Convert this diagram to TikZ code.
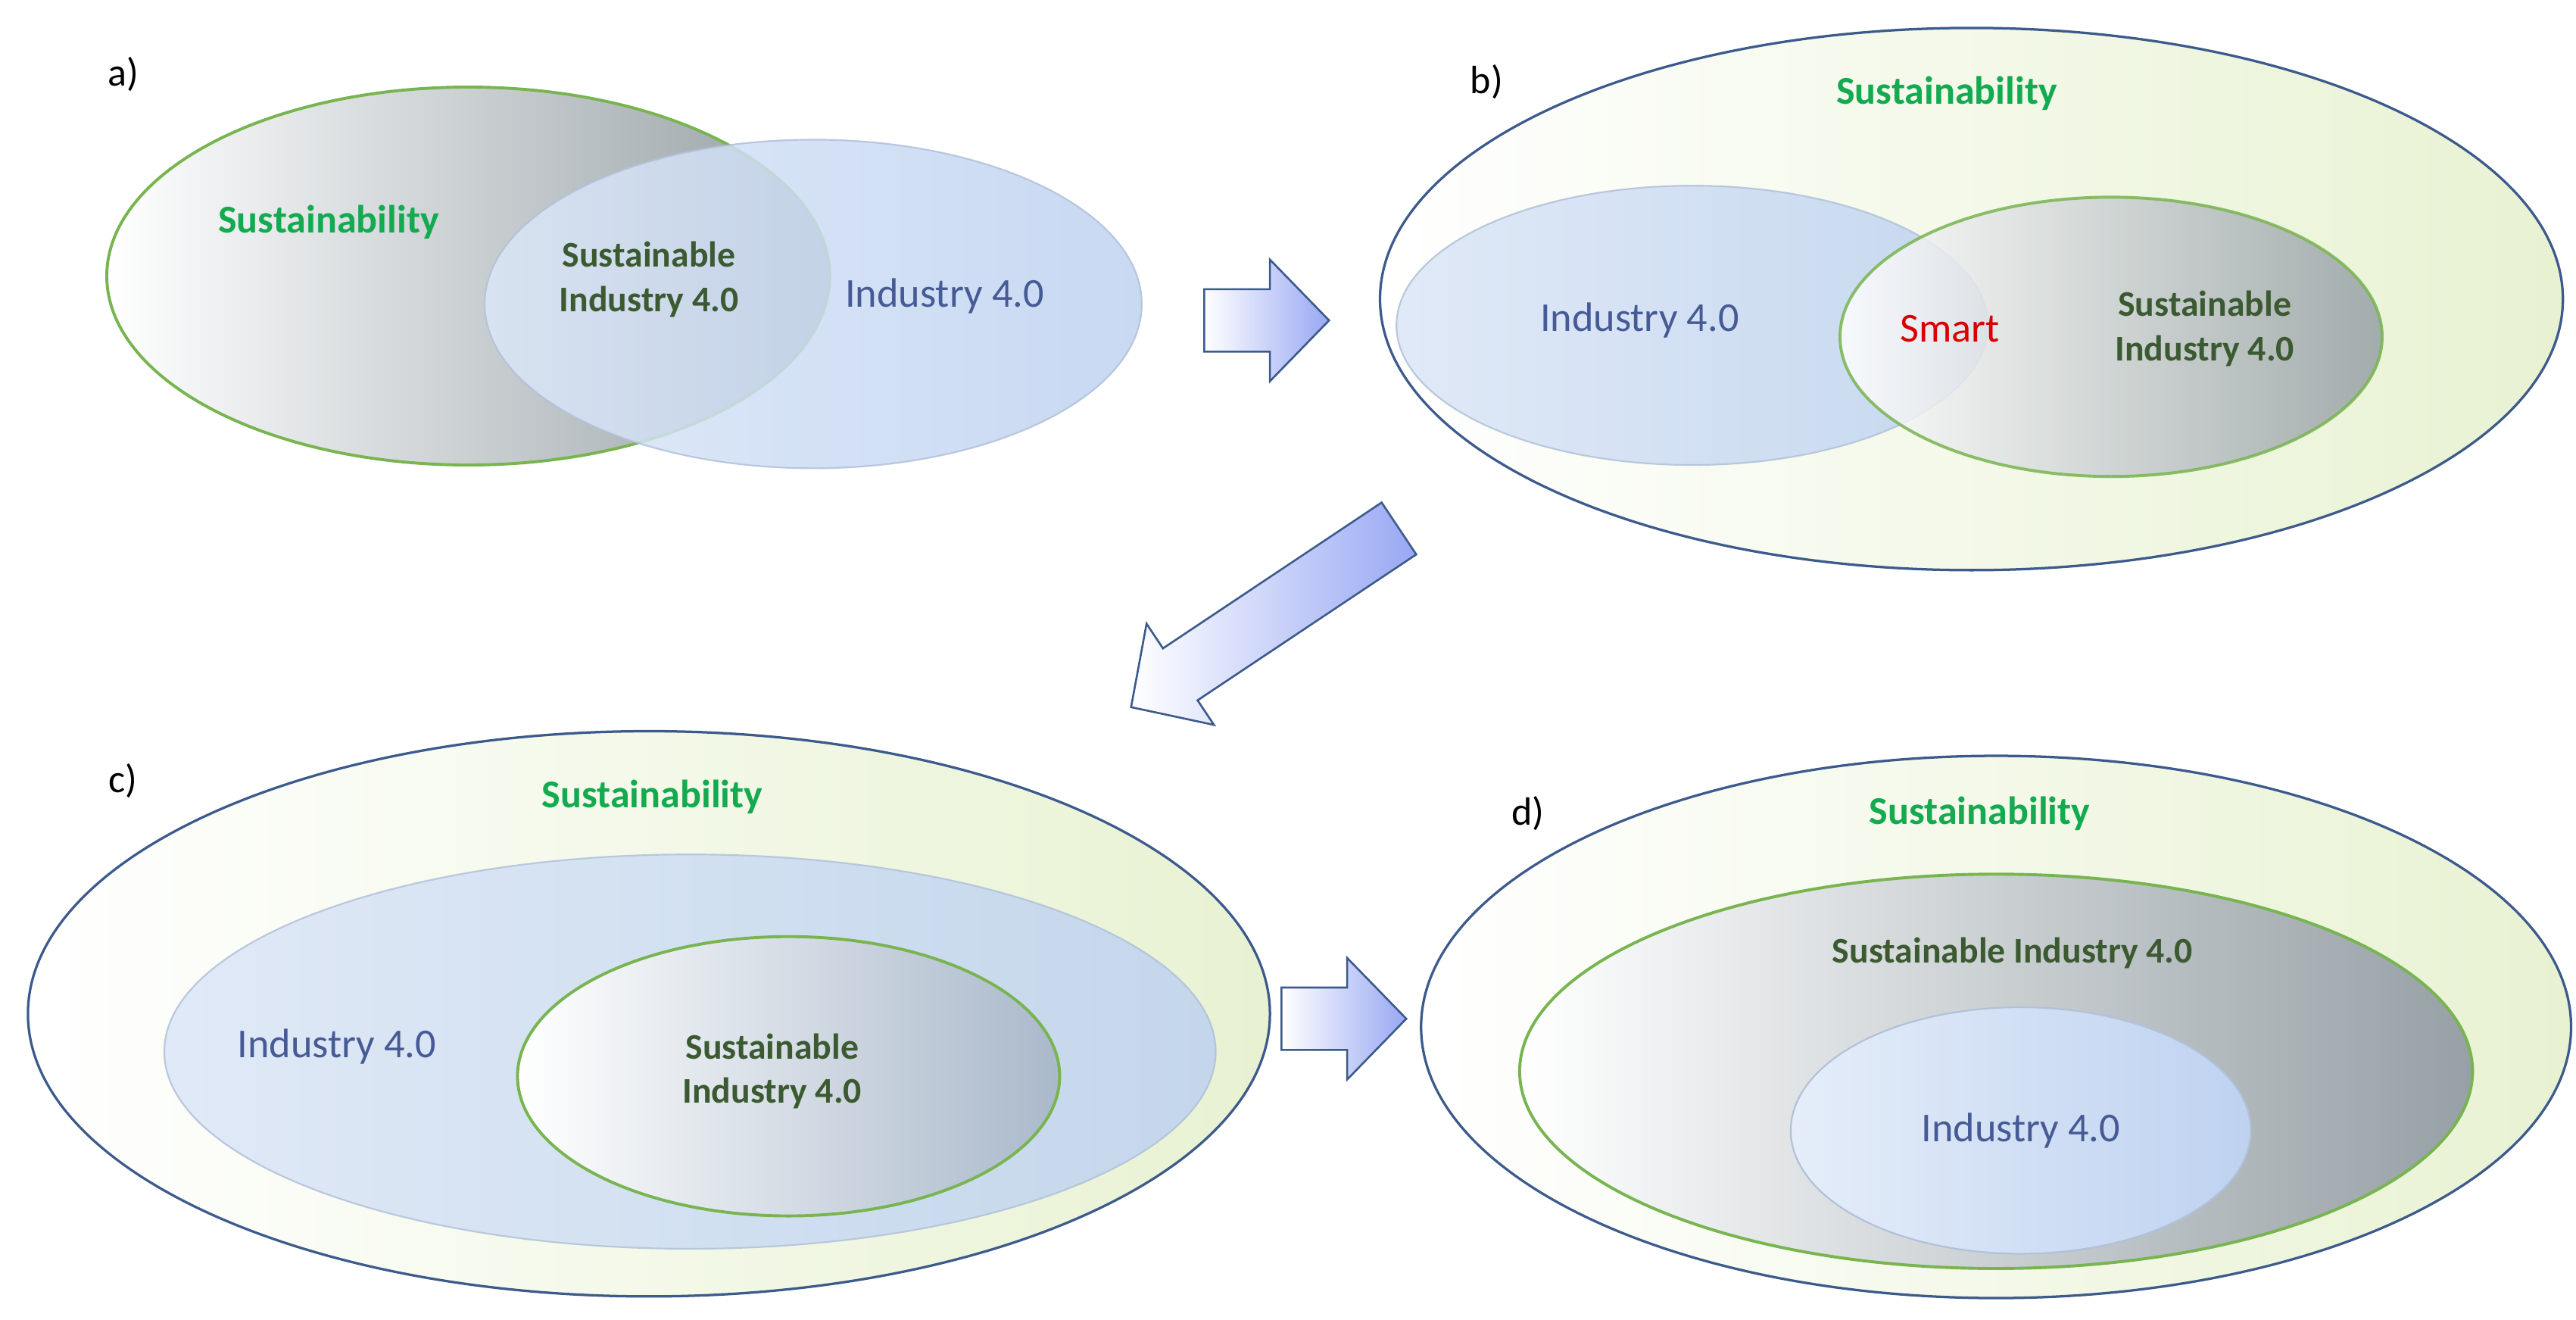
\documentclass[tikz,border=0pt]{standalone}
\usepackage{fontspec}
\setmainfont{Carlito}
\usetikzlibrary{shapes.geometric}
\definecolor{sgreen}{RGB}{20,170,80}
\definecolor{dgreen}{RGB}{60,90,50}
\definecolor{iblue}{RGB}{70,90,150}
\definecolor{outerb}{RGB}{60,90,140}
\definecolor{lgreen}{RGB}{232,242,210}
\definecolor{lblue}{RGB}{190,210,240}
\definecolor{ggray}{RGB}{150,160,165}
\definecolor{sborder}{RGB}{120,180,80}
\tikzset{
 outer/.style={ellipse,draw=outerb,line width=1.5pt,inner sep=0pt,left color=white,right color=lgreen},
 indus/.style={ellipse,draw=lblue!80!gray,line width=1pt,inner sep=0pt,left color=lblue!55,right color=lblue,opacity=0.85},
 sust/.style={ellipse,draw=sborder,line width=1.8pt,inner sep=0pt,left color=white,right color=ggray},
 lab/.style={font=\fontsize{24}{28}\selectfont},
 tsus/.style={font=\fontsize{24}{28}\selectfont\bfseries,text=sgreen},
 tsi/.style={font=\fontsize{22}{27}\selectfont\bfseries,text=dgreen,align=center},
 tin/.style={font=\fontsize{25}{29}\selectfont,text=iblue},
 barrow/.style={draw=outerb,line width=1.2pt,left color=white,right color=lblue!80!blue}
}
\newcommand{\blockarrow}[5]{% x y angle halflength name
 \begin{scope}[shift={(#1,#2)},rotate=#3]
 \path[barrow] (-#4,-19) -- (#4-36,-19) -- (#4-36,-37) -- (#4,0) -- (#4-36,37) -- (#4-36,19) -- (-#4,19) -- cycle;
 \coordinate (#5) at (0,0);
 \end{scope}}
\begin{document}
\begin{tikzpicture}[x=1pt,y=-1pt]
\useasboundingbox (0,0) rectangle (1568,803);
% a
\node[lab] (la) at (75,45) {a)};
\node[sust,minimum width=440pt,minimum height=230pt] (as) at (285,168) {};
\node[indus,minimum width=400pt,minimum height=200pt] (ai) at (495,185) {};
\node[tsus] (ast) at (200,135) {Sustainability};
\node[tsi] (asi) at (395,170) {Sustainable\\Industry 4.0};
\node[tin] (ait) at (575,180) {Industry 4.0};
\blockarrow{771}{195}{0}{38}{ar1}
% b
\node[outer,minimum width=720pt,minimum height=330pt] (bo) at (1200,182) {};
\node[lab] (lb) at (905,50) {b)};
\node[tsus] (bst) at (1185,57) {Sustainability};
\node[indus,minimum width=360pt,minimum height=170pt] (bi) at (1030,198) {};
\node[sust,minimum width=330pt,minimum height=170pt,opacity=0.85] (bs) at (1285,205) {};
\node[font=\fontsize{25}{29}\selectfont,text=red!85!black] (bsm) at (1187,200) {Smart};
\node[tin] (bit) at (998,195) {Industry 4.0};
\node[tsi] (bsi) at (1342,200) {Sustainable\\Industry 4.0};
\blockarrow{770}{376}{-146.3}{98}{ar2}
% c
\node[outer,minimum width=756pt,minimum height=344pt] (co) at (395,617) {};
\node[lab] (lc) at (75,475) {c)};
\node[tsus] (cst) at (397,485) {Sustainability};
\node[indus,minimum width=640pt,minimum height=240pt] (ci) at (420,640) {};
\node[sust,minimum width=330pt,minimum height=170pt,right color=lblue!50!ggray] (cs) at (480,655) {};
\node[tin] (cit) at (205,637) {Industry 4.0};
\node[tsi] (csi) at (470,652) {Sustainable\\Industry 4.0};
\blockarrow{818}{620}{0}{38}{ar3}
% d
\node[outer,minimum width=700pt,minimum height=330pt] (do) at (1215,625) {};
\node[lab] (ld) at (930,495) {d)};
\node[tsus] (dst) at (1205,495) {Sustainability};
\node[sust,minimum width=580pt,minimum height=240pt] (ds) at (1215,652) {};
\node[tsi] (dsi) at (1225,580) {Sustainable Industry 4.0};
\node[indus,minimum width=280pt,minimum height=150pt,opacity=1,left color=white!60!lblue] (di) at (1230,688) {};
\node[tin] (dit) at (1230,688) {Industry 4.0};
\end{tikzpicture}
\end{document}
